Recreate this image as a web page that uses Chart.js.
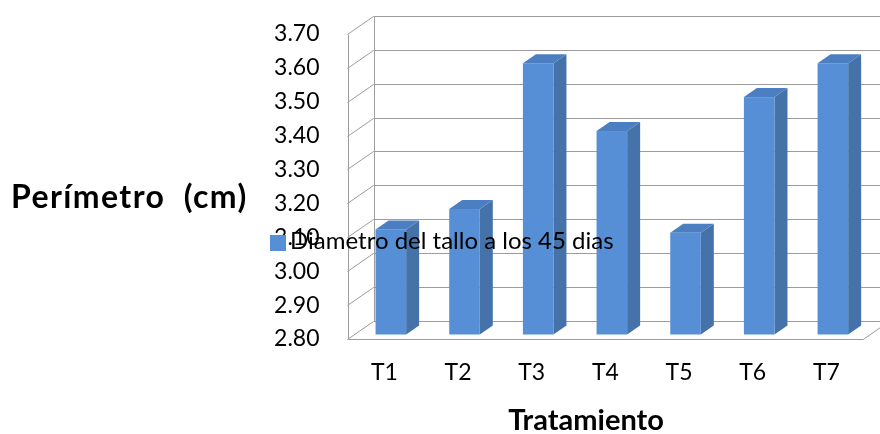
<!DOCTYPE html>
<html>
<head>
<meta charset="utf-8">
<script src="https://cdn.jsdelivr.net/npm/chart.js@4/dist/chart.umd.min.js"></script>
<style>
  html, body { margin: 0; padding: 0; background: #ffffff; }
  #wrap { width: 880px; height: 434px; position: relative; }
</style>
</head>
<body>
<div id="wrap"><canvas id="chart" width="880" height="434"></canvas></div>
<script>
// Stem perimeter per treatment
const categories = ['T1', 'T2', 'T3', 'T4', 'T5', 'T6', 'T7'];
const perimetro = [3.11, 3.17, 3.60, 3.40, 3.10, 3.50, 3.60];
const seriesLabel = 'Diametro del tallo a los 45 dias';
const yTicks = [2.80, 2.90, 3.00, 3.10, 3.20, 3.30, 3.40, 3.50, 3.60, 3.70];
const yTitle = 'Perímetro  (cm)';
const xTitle = 'Tratamiento';

// 3-D look: depth of the walls and where the columns sit inside it
const DEPTH_X = 26, DEPTH_Y = -18;
const BAR_FRONT = 0.25, BAR_BACK = 0.75;
const GRID = '#9c9c9c';
const FACE = '#568fd5', SIDE = '#4572a8', TOP = '#4b7fc1';
const FONT = 'Lato, "Liberation Sans", sans-serif';

const frame3d = {
  id: 'frame3d',
  beforeDatasetsDraw(chart) {
    const { ctx, chartArea: a, scales: { y } } = chart;
    const L = a.left, R = a.right, B = y.getPixelForValue(yTicks[0]), T = y.getPixelForValue(yTicks[yTicks.length - 1]);
    const line = (x1, y1, x2, y2) => { ctx.beginPath(); ctx.moveTo(x1, y1); ctx.lineTo(x2, y2); ctx.stroke(); };
    ctx.save();
    ctx.strokeStyle = GRID;
    ctx.lineWidth = 1;
    // side wall diagonals and back wall gridlines
    y.ticks.forEach(t => {
      const py = Math.round(y.getPixelForValue(t.value)) + 0.5;
      line(L, py, L + DEPTH_X, py + DEPTH_Y);
      line(L + DEPTH_X, py + DEPTH_Y, R + DEPTH_X, py + DEPTH_Y);
    });
    const l0 = Math.round(L) + 0.5, b0 = Math.round(B) + 0.5, t0 = Math.round(T) + 0.5;
    // wall edges
    line(l0, t0, l0, b0);
    line(l0 + DEPTH_X, t0 + DEPTH_Y, l0 + DEPTH_X, b0 + DEPTH_Y);
    // floor
    line(l0, b0, R, b0);
    line(R, b0, R + DEPTH_X, b0 + DEPTH_Y);
    ctx.restore();
  },
  beforeDatasetDraw() {
    return false; // columns are drawn as prisms below
  },
  afterDatasetsDraw(chart) {
    const { ctx } = chart;
    const fx = DEPTH_X * BAR_FRONT, fy = DEPTH_Y * BAR_FRONT;
    const dx = DEPTH_X * (BAR_BACK - BAR_FRONT), dy = DEPTH_Y * (BAR_BACK - BAR_FRONT);
    const meta = chart.getDatasetMeta(0);
    ctx.save();
    meta.data.forEach(el => {
      const p = el.getProps(['x', 'y', 'base', 'width'], true);
      const left = p.x - p.width / 2 + fx, right = p.x + p.width / 2 + fx;
      const top = p.y + fy, bottom = p.base + fy;
      // side face
      ctx.fillStyle = SIDE;
      ctx.beginPath();
      ctx.moveTo(right, top); ctx.lineTo(right + dx, top + dy);
      ctx.lineTo(right + dx, bottom + dy); ctx.lineTo(right, bottom);
      ctx.closePath(); ctx.fill();
      // top face
      ctx.fillStyle = TOP;
      ctx.beginPath();
      ctx.moveTo(left, top); ctx.lineTo(left + dx, top + dy);
      ctx.lineTo(right + dx, top + dy); ctx.lineTo(right, top);
      ctx.closePath(); ctx.fill();
      // front face
      ctx.fillStyle = FACE;
      ctx.fillRect(left, top, right - left, bottom - top);
    });
    ctx.restore();
  },
  afterDraw(chart) {
    const { ctx } = chart;
    ctx.save();
    ctx.fillStyle = '#000000';
    ctx.textBaseline = 'alphabetic';
    // axis titles
    ctx.font = 'bold 32px ' + FONT;
    ctx.textAlign = 'left';
    ctx.letterSpacing = '1.4px';
    ctx.fillText(yTitle, 11, 208);
    ctx.letterSpacing = '0px';
    ctx.font = 'bold 29px ' + FONT;
    ctx.textAlign = 'center';
    ctx.fillText(xTitle, 586, 430);
    // legend
    const ds = chart.data.datasets[0];
    ctx.fillStyle = ds.backgroundColor;
    ctx.fillRect(270, 235, 16, 16);
    ctx.fillStyle = '#000000';
    ctx.font = '24px ' + FONT;
    ctx.textAlign = 'left';
    ctx.fillText(ds.label, 290, 249);
    ctx.restore();
  }
};

new Chart(document.getElementById('chart'), {
  type: 'bar',
  data: {
    labels: categories,
    datasets: [{
      label: seriesLabel,
      data: perimetro,
      base: yTicks[0],
      backgroundColor: FACE,
      barPercentage: 0.415,
      categoryPercentage: 1.0
    }]
  },
  options: {
    responsive: false,
    animation: false,
    layout: { padding: { top: 33, right: 16.8, bottom: 0, left: 0 } },
    plugins: { legend: { display: false }, tooltip: { enabled: false } },
    scales: {
      x: {
        grid: { display: false },
        border: { display: false },
        ticks: { color: '#000000', font: { family: FONT, size: 23 }, padding: 12 },
        afterFit(scale) { scale.height = 95; }
      },
      y: {
        min: yTicks[0],
        max: yTicks[yTicks.length - 1],
        grid: { display: false },
        border: { display: false },
        afterBuildTicks(scale) { scale.ticks = yTicks.map(v => ({ value: v })); },
        ticks: {
          color: '#000000',
          font: { family: FONT, size: 23 },
          padding: 20,
          callback: v => Number(v).toFixed(2)
        },
        afterFit(scale) { scale.width = 347.5; }
      }
    }
  },
  plugins: [frame3d]
});
</script>
</body>
</html>
